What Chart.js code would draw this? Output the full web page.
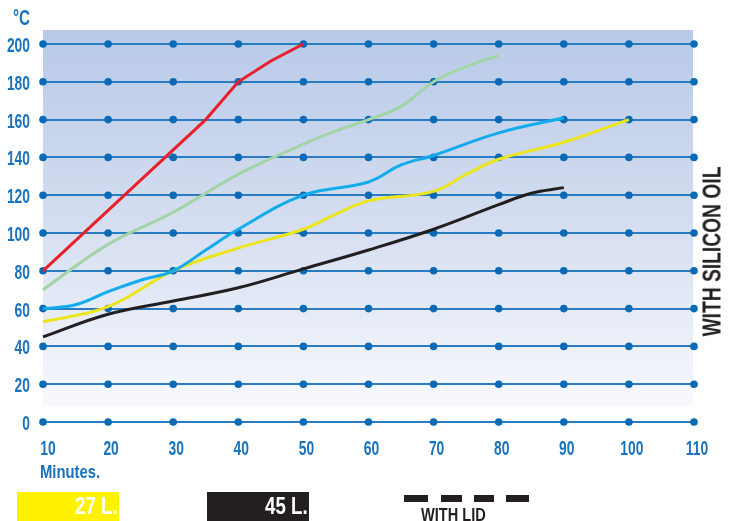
<!DOCTYPE html>
<html>
<head>
<meta charset="utf-8">
<script src="https://cdn.jsdelivr.net/npm/chart.js@4.4.1/dist/chart.umd.min.js"></script>
<style>
  body { margin: 0; background: #fff; }
  #wrap { position: relative; width: 731px; height: 521px; overflow: hidden; font-family: "Liberation Sans", Arial, sans-serif; font-weight: bold; }
  #chart { position: absolute; left: 0; top: 0; }
  .lbl { position: absolute; white-space: nowrap; transform-origin: 0 0; }
  .box { position: absolute; top: 492px; width: 102px; height: 29px; }
  .box span { position: absolute; right: 1px; top: 2px; font-size: 24px; line-height: 24px; color: #fff; transform: scaleX(0.78); transform-origin: 100% 0; }
  .dash { position: absolute; top: 495px; height: 7px; background: #231f20; }
</style>
</head>
<body>
<div id="wrap">
  <canvas id="chart" width="731" height="521"></canvas>
  <div class="lbl" style="left:13px;top:7px;font-size:22px;line-height:22px;color:#1a73bd;transform:scaleX(0.69);">°C</div>
  <div class="lbl" style="left:40px;top:462px;font-size:19px;line-height:19px;color:#1a73bd;transform:scaleX(0.78);">Minutes.</div>
  <div class="box" style="left:17px;background:#fff200;"><span>27 L.</span></div>
  <div class="box" style="left:207px;background:#231f20;"><span>45 L.</span></div>
  <div class="dash" style="left:404px;width:24px;"></div>
  <div class="dash" style="left:441px;width:21px;"></div>
  <div class="dash" style="left:474px;width:20px;"></div>
  <div class="dash" style="left:506px;width:23px;"></div>
  <div class="lbl" style="left:421px;top:506px;font-size:18px;line-height:18px;color:#231f20;transform:scaleX(0.81);">WITH LID</div>
  <div class="lbl" style="left:592px;top:239px;width:240px;height:25px;font-size:25px;line-height:25px;text-align:center;color:#231f20;transform-origin:50% 50%;transform:rotate(-90deg) scaleX(0.77);">WITH SILICON OIL</div>
</div>
<script>
// axis ticks
const minuteTicks = [10, 20, 30, 40, 50, 60, 70, 80, 90, 100, 110];
const tempTicks = [0, 20, 40, 60, 80, 100, 120, 140, 160, 180, 200];

// heating curves (minutes -> °C)
const redMin = [10, 20, 30, 35, 40, 45, 50];
const redTemp = [80, 112, 144, 160, 180, 191, 200];

const greenMin = [10, 20, 30, 40, 50, 55, 60, 65, 70, 75, 80];
const greenTemp = [70, 94, 111, 131, 147, 154, 160, 167, 180, 188, 194];

const cyanMin = [10, 15, 20, 25, 30, 35, 40, 50, 60, 65, 70, 80, 90];
const cyanTemp = [60, 62, 69, 75, 80, 91, 102, 120, 127, 136, 141, 153, 161];

const yellowMin = [10, 20, 30, 40, 50, 55, 60, 70, 75, 80, 90, 100];
const yellowTemp = [53, 61, 80, 92, 102, 110, 117, 122, 131, 139, 148, 160];

const blackMin = [10, 20, 30, 40, 50, 60, 70, 80, 85, 90];
const blackTemp = [45, 57, 64, 71, 81, 91, 102, 115, 121, 124];

const pts = (xs, ys) => xs.map((x, i) => ({ x, y: ys[i] }));
const gridDots = minuteTicks.flatMap(x => tempTicks.map(y => ({ x, y })));

const blue = "#1a73bd";

const bgPlugin = {
    id: "bg",
    beforeDraw(chart) {
        const { ctx, chartArea: a, scales: { y } } = chart;
        const top = y.getPixelForValue(200) - 14;
        const bottom = y.getPixelForValue(0) - 16;
        const g = ctx.createLinearGradient(0, top, 0, bottom);
        g.addColorStop(0, "#b8cae8");
        g.addColorStop(0.5, "#d4ddf0");
        g.addColorStop(1, "#f7f9fd");
        ctx.save();
        ctx.fillStyle = g;
        ctx.fillRect(a.left, top, a.right - a.left - 1, bottom - top);
        ctx.restore();
    }
};

// condensed tick labels, drawn from the chart's own scales
const tickLabels = {
    id: "tickLabels",
    afterDraw(chart) {
        const { ctx, scales: { x, y } } = chart;
        ctx.save();
        ctx.font = "bold 21px 'Liberation Sans', Arial, sans-serif";
        ctx.fillStyle = blue;
        ctx.textBaseline = "alphabetic";
        const sx = 0.66;
        y.ticks.forEach(t => {
            const py = y.getPixelForValue(t.value);
            ctx.save();
            ctx.translate(30, py + 8);
            ctx.scale(sx, 1);
            ctx.textAlign = "right";
            ctx.fillText(String(t.value), 0, 0);
            ctx.restore();
        });
        x.ticks.forEach(t => {
            const px = x.getPixelForValue(t.value);
            ctx.save();
            ctx.translate(t.value === 10 ? px + 5 : px + 3, 455);
            ctx.scale(sx, 1);
            ctx.textAlign = "center";
            ctx.fillText(String(t.value), 0, 0);
            ctx.restore();
        });
        ctx.restore();
    }
};

function line(data, color, tension) {
    return {
        type: "line", data, borderColor: color, borderWidth: 3,
        pointRadius: 0, tension, clip: false, order: 1
    };
}

new Chart(document.getElementById("chart"), {
    type: "scatter",
    data: {
        datasets: [
            line(pts(redMin, redTemp), "#e8202a", 0),
            line(pts(greenMin, greenTemp), "#a3d4a8", 0.4),
            line(pts(cyanMin, cyanTemp), "#12aced", 0.4),
            line(pts(yellowMin, yellowTemp), "#ece51c", 0.4),
            line(pts(blackMin, blackTemp), "#231f20", 0.4),
            { data: gridDots, pointRadius: 3.8, pointBackgroundColor: "#0a6ab5", pointBorderWidth: 0, clip: false, order: 10 }
        ]
    },
    options: {
        responsive: false,
        animation: false,
        layout: { padding: { top: 44, right: 37, left: 0, bottom: 0 } },
        plugins: { legend: { display: false }, tooltip: { enabled: false } },
        scales: {
            x: {
                type: "linear", min: 10, max: 110,
                afterFit: s => { s.height = 99; },
                afterBuildTicks: s => { s.ticks = minuteTicks.map(v => ({ value: v })); },
                grid: { display: false, drawTicks: false },
                border: { display: false },
                ticks: { display: false }
            },
            y: {
                min: 0, max: 200,
                afterFit: s => { s.width = 43; },
                afterBuildTicks: s => { s.ticks = tempTicks.map(v => ({ value: v })); },
                grid: { color: "#2a7cc2", lineWidth: 2, drawTicks: false },
                border: { display: false },
                ticks: { display: false }
            }
        }
    },
    plugins: [bgPlugin, tickLabels]
});
</script>
</body>
</html>
